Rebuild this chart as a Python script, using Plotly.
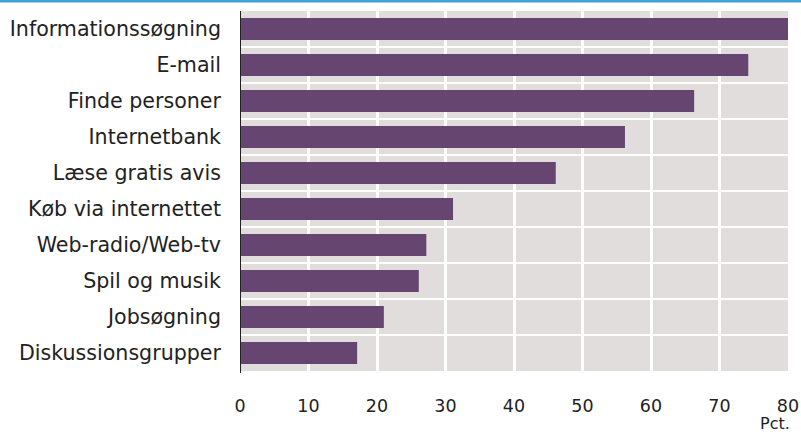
import plotly.graph_objects as go

categories = ["Informationssøgning", "E-mail", "Finde personer", "Internetbank",
              "Læse gratis avis", "Køb via internettet", "Web-radio/Web-tv",
              "Spil og musik", "Jobsøgning", "Diskussionsgrupper"]
values = [80.3, 74.2, 66.3, 56.2, 46.1, 31.1, 27.2, 26.1, 21.0, 17.1]
xticks = [0, 10, 20, 30, 40, 50, 60, 70, 80]
unit_label = "Pct."

n = len(categories)
pos = list(range(n))[::-1]

W, H = 801, 432
L, R, T, B = 240, 13, 11, 61

fig = go.Figure(go.Bar(
    x=values, y=pos, orientation="h",
    marker=dict(color="#674571", line=dict(width=0)),
    width=0.61, cliponaxis=False, hoverinfo="skip",
))

font = "DejaVu Sans, sans-serif"
fig.update_layout(
    width=W, height=H,
    margin=dict(l=L, r=R, t=T, b=B, autoexpand=False),
    paper_bgcolor="white", plot_bgcolor="#e1dddd",
    showlegend=False,
    font=dict(family=font, size=18, color="#222222"),
    xaxis=dict(range=[0, 80], tickvals=xticks, showgrid=True, gridcolor="white",
               gridwidth=2.5, zeroline=False, showline=False, ticks="",
               automargin=False,
               ticklabelstandoff=22, tickfont=dict(size=17.5, color="#222222"),
               fixedrange=True),
    yaxis=dict(range=[-0.5, n - 0.5], tickvals=pos, ticktext=categories,
               showgrid=False, zeroline=False, showline=False, ticks="",
               automargin=False,
               ticklabelstandoff=18, tickfont=dict(size=20.6, color="#222222"),
               minor=dict(tick0=0.5, dtick=1, showgrid=True, gridcolor="white",
                          gridwidth=2),
               fixedrange=True),
    shapes=[
        dict(type="line", xref="x", yref="paper", x0=0, x1=0,
             y0=-2 / (H - T - B), y1=1.0,
             line=dict(color="#222222", width=2)),
        dict(type="rect", xref="paper", yref="paper",
             x0=-L / (W - L - R), x1=1 + R / (W - L - R),
             y0=1 + (T - 2.5) / (H - T - B), y1=1 + T / (H - T - B),
             fillcolor="#41a1d8", line=dict(width=0)),
    ],
    annotations=[
        dict(text=unit_label, xref="paper", yref="paper", x=1 + 4 / (W - L - R),
             y=-(423 - (H - B)) / (H - T - B), xanchor="right", yanchor="middle",
             showarrow=False, font=dict(size=16, color="#222222")),
    ],
)

fig.write_html("out.html", config=dict(displayModeBar=False),
               post_script="document.body.style.margin='0';document.body.style.overflow='hidden';")
